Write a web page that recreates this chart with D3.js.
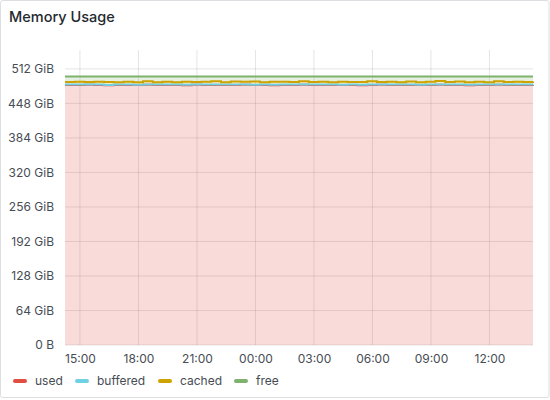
<html>
<head>
<meta charset="utf-8">
<style>
    body { margin: 0; background: #fff; font-family: Inter, sans-serif; }
    .tick text { fill: #464c54; font-size: 12px; font-family: Inter, sans-serif; }
</style>
<script src="https://cdn.jsdelivr.net/npm/d3@7"></script>
</head>
<body>
<script>
    // memory series, GiB, one sample every 30 min starting 14:14
    var startTime = new Date(2024, 0, 1, 14, 14);
    var stepMinutes = 30;

    var used = [482.3, 482.1, 482.4, 482.2, 481.5, 482.3, 482.3, 482.0, 482.4, 482.2,
        482.1, 482.3, 481.7, 482.4, 482.2, 482.3, 482.0, 482.2, 482.4, 482.1,
        482.3, 481.6, 482.2, 482.3, 482.4, 482.1, 482.3, 482.2, 482.0, 482.3,
        481.8, 482.2, 482.4, 482.1, 482.3, 482.2, 482.0, 482.3, 482.4, 482.1,
        482.2, 481.7, 482.3, 482.2, 482.4, 482.1, 482.3, 482.2, 482.3];
    var buffered = [0.7, 0.8, 0.7, 0.6, 0.7, 0.8, 0.7, 0.7, 0.6, 0.7,
        0.8, 0.7, 0.7, 0.7, 0.6, 0.7, 0.8, 0.7, 0.7, 0.6,
        0.7, 0.8, 0.7, 0.7, 0.6, 0.7, 0.7, 0.8, 0.7, 0.7,
        0.6, 0.7, 0.7, 0.8, 0.7, 0.7, 0.6, 0.7, 0.7, 0.8,
        0.7, 0.7, 0.6, 0.7, 0.7, 0.8, 0.7, 0.7, 0.7];
    var cached = [4.6, 5.3, 4.4, 5.1, 5.6, 4.3, 5.0, 4.7, 6.2, 4.5,
        5.4, 4.2, 5.8, 4.6, 5.2, 6.1, 4.4, 5.5, 4.8, 6.0,
        4.3, 5.7, 5.0, 4.5, 5.9, 4.9, 5.3, 4.4, 5.6, 4.7,
        5.4, 6.3, 4.5, 5.1, 4.3, 5.8, 4.6, 5.2, 6.4, 4.8,
        5.5, 4.9, 5.3, 4.4, 6.0, 4.7, 5.2, 4.6, 5.5];
    var free = [10.4, 9.8, 10.5, 10.1, 10.2, 10.6, 10.0, 10.6, 8.8, 10.6,
        9.7, 10.8, 9.8, 10.3, 10.0, 8.9, 10.8, 9.6, 10.1, 9.3,
        10.7, 9.9, 10.1, 10.5, 9.1, 10.3, 9.7, 10.6, 9.7, 10.3,
        10.2, 8.8, 10.4, 10.0, 10.7, 9.3, 10.8, 9.8, 8.5, 10.3,
        9.6, 10.7, 9.8, 10.7, 8.9, 10.4, 9.8, 10.5, 9.5];

    var seriesNames = ["used", "buffered", "cached", "free"];
    var seriesColors = ["#E24D42", "#6ED0E0", "#CCA300", "#7EB26D"];
    var yTicks = [0, 64, 128, 192, 256, 320, 384, 448, 512];

    var W = 550, H = 400;
    var margin = {top: 50, right: 17, bottom: 55, left: 65};

    var rows = used.map(function (u, i) {
        return {
            time: new Date(startTime.getTime() + i * stepMinutes * 60000),
            used: u, buffered: buffered[i], cached: cached[i], free: free[i]
        };
    });

    var svg = d3.select("body").append("svg")
        .attr("width", W).attr("height", H);

    // panel frame
    svg.append("rect")
        .attr("x", 0.5).attr("y", 0.5)
        .attr("width", W - 1.5).attr("height", H - 3)
        .attr("rx", 2)
        .attr("fill", "#fff")
        .attr("stroke", "#dcdee1");

    svg.append("text")
        .attr("x", 9).attr("y", 22)
        .attr("font-size", "14.5px")
        .attr("font-weight", 500)
        .attr("fill", "#24292e")
        .text("Memory Usage");

    var x = d3.scaleTime()
        .domain(d3.extent(rows, function (d) { return d.time; }))
        .range([margin.left, W - margin.right]);

    var y = d3.scaleLinear()
        .domain([0, 547])
        .range([H - margin.bottom, margin.top]);

    // grid
    var grid = svg.append("g");
    grid.selectAll(".hg").data(yTicks).enter().append("line")
        .attr("x1", margin.left).attr("x2", W - margin.right)
        .attr("y1", function (d) { return y(d); })
        .attr("y2", function (d) { return y(d); })
        .attr("stroke", "rgba(36,41,46,0.12)");
    var xTickVals = x.ticks(d3.timeHour.every(3));
    grid.selectAll(".vg").data(xTickVals).enter().append("line")
        .attr("x1", function (d) { return x(d); })
        .attr("x2", function (d) { return x(d); })
        .attr("y1", margin.top).attr("y2", H - margin.bottom)
        .attr("stroke", "rgba(36,41,46,0.12)");

    var stacked = d3.stack().keys(seriesNames)(rows);

    var area = d3.area()
        .x(function (d) { return x(d.data.time); })
        .y0(function (d) { return y(d[0]); })
        .y1(function (d) { return y(d[1]); })
        .curve(d3.curveStepAfter);
    var line = d3.line()
        .x(function (d) { return x(d.data.time); })
        .y(function (d) { return y(d[1]); })
        .curve(d3.curveStepAfter);

    svg.append("g").selectAll("path").data(stacked).enter().append("path")
        .attr("d", area)
        .attr("fill", function (d, i) { return seriesColors[i]; })
        .attr("fill-opacity", 0.2);

    svg.append("g").selectAll("path").data(stacked).enter().append("path")
        .attr("d", line)
        .attr("fill", "none")
        .attr("stroke", function (d, i) { return seriesColors[i]; })
        .attr("stroke-width", 2);

    // axes
    var yAxis = svg.append("g")
        .attr("transform", "translate(" + (margin.left - 8) + ",0)")
        .call(d3.axisLeft(y).tickValues(yTicks).tickSize(0)
            .tickFormat(function (d) { return d === 0 ? "0 B" : d + " GiB"; }));
    yAxis.select(".domain").remove();

    var xAxis = svg.append("g")
        .attr("transform", "translate(0," + (H - margin.bottom + 6) + ")")
        .call(d3.axisBottom(x).tickValues(xTickVals).tickSize(0)
            .tickFormat(d3.timeFormat("%H:%M")));
    xAxis.select(".domain").remove();

    // legend
    var legendX = [13, 75, 158, 234];
    var legend = svg.append("g").selectAll("g").data(seriesNames).enter().append("g")
        .attr("transform", function (d, i) { return "translate(" + legendX[i] + ",381)"; });
    legend.append("rect")
        .attr("x", 0).attr("y", -2)
        .attr("width", 14).attr("height", 4).attr("rx", 2)
        .attr("fill", function (d, i) { return seriesColors[i]; });
    legend.append("text")
        .attr("x", 22).attr("y", 4)
        .attr("font-size", "12px")
        .attr("fill", "#464c54")
        .text(function (d) { return d; });
</script>
</body>
</html>
